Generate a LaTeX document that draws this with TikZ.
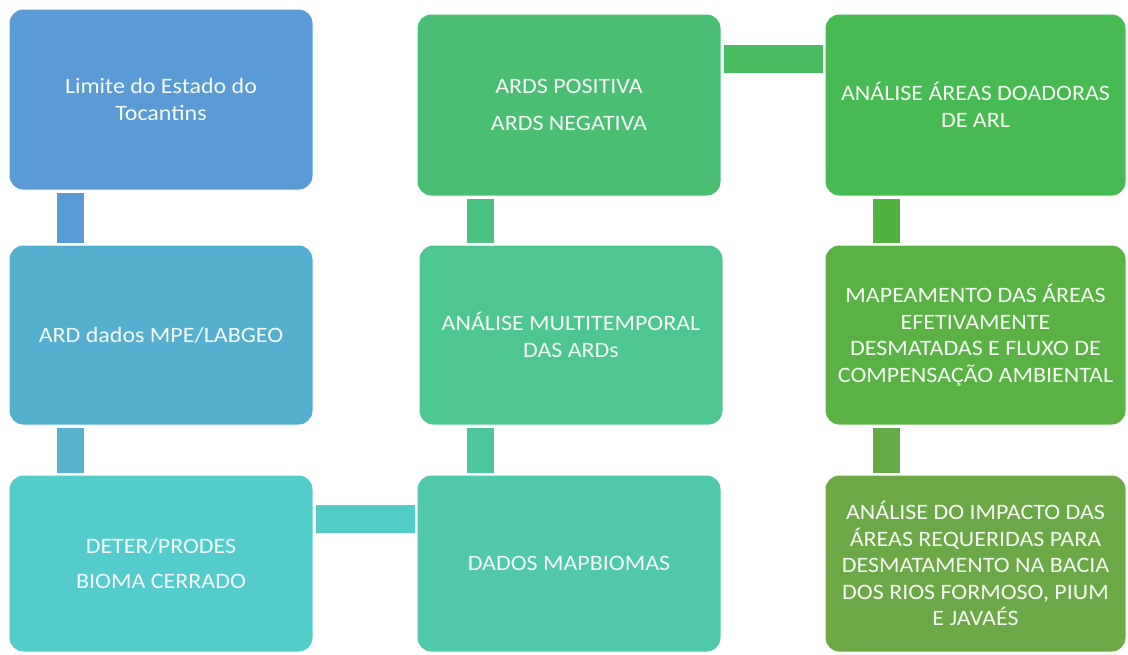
\documentclass[tikz,border=0pt]{standalone}
\usepackage{fontspec}
\setmainfont{Carlito}[FakeStretch=1.09]
\usetikzlibrary{calc}
\definecolor{cA1}{RGB}{91,155,213}
\definecolor{cA2}{RGB}{84,176,206}
\definecolor{cA3}{RGB}{84,204,204}
\definecolor{cB3}{RGB}{80,200,170}
\definecolor{cB2}{RGB}{78,198,143}
\definecolor{cB1}{RGB}{74,190,115}
\definecolor{cC1}{RGB}{72,186,82}
\definecolor{cC2}{RGB}{90,178,68}
\definecolor{cC3}{RGB}{108,168,70}
\definecolor{kA12}{RGB}{91,155,213}
\definecolor{kA23}{RGB}{86,178,205}
\definecolor{kAB}{RGB}{82,205,200}
\definecolor{kB32}{RGB}{78,198,156}
\definecolor{kB21}{RGB}{76,194,128}
\definecolor{kBC}{RGB}{73,188,98}
\definecolor{kC12}{RGB}{82,178,64}
\definecolor{kC23}{RGB}{100,170,70}
\definecolor{txt}{RGB}{246,250,246}
\tikzset{
  box/.style={rectangle, rounded corners=14pt, draw=white, line width=1pt,
    text=txt, align=center, inner sep=0pt,
    font=\fontsize{22}{26.5}\selectfont},
  vconn/.style={line width=27pt, shorten <=2pt, shorten >=2pt},
  hconn/.style={line width=28pt, shorten <=2pt, shorten >=2pt}
}
\begin{document}
\begin{tikzpicture}[x=1pt,y=-1pt]
\useasboundingbox (0,0) rectangle (1128,654);
% column 1
\node[box, fill=cA1, minimum width=304pt, minimum height=181pt] (a1) at (161,99.5) {Limite do Estado do\\Tocantins};
\node[box, fill=cA2, minimum width=304pt, minimum height=180pt] (a2) at (161,335) {ARD dados MPE/LABGEO};
\node[box, fill=cA3, minimum width=304pt, minimum height=177pt] (a3) at (161,563.5) {DETER/PRODES\\[9pt]BIOMA CERRADO};
% column 2
\node[box, fill=cB1, minimum width=304pt, minimum height=182pt] (b1) at (569,105) {ARDS POSITIVA\\[10pt]ARDS NEGATIVA};
\node[box, fill=cB2, minimum width=304pt, minimum height=180pt] (b2) at (571,335) {ANÁLISE MULTITEMPORAL\\DAS ARDs};
\node[box, fill=cB3, minimum width=304pt, minimum height=177pt] (b3) at (569,563.5) {DADOS MAPBIOMAS};
% column 3
\node[box, fill=cC1, minimum width=301pt, minimum height=182pt] (c1) at (975.5,105) {ANÁLISE ÁREAS DOADORAS\\DE ARL};
\node[box, fill=cC2, minimum width=301pt, minimum height=180pt] (c2) at (975.5,335) {MAPEAMENTO DAS ÁREAS\\EFETIVAMENTE\\DESMATADAS E FLUXO DE\\COMPENSAÇÃO AMBIENTAL};
\node[box, fill=cC3, minimum width=301pt, minimum height=177pt] (c3) at (975.5,563.5) {ANÁLISE DO IMPACTO DAS\\ÁREAS REQUERIDAS PARA\\DESMATAMENTO NA BACIA\\DOS RIOS FORMOSO, PIUM\\E JAVAÉS};
% connector guide coordinates
\coordinate (kA) at (70.5,0);
\coordinate (kB) at (480,0);
\coordinate (kC) at (886.5,0);
\coordinate (hBot) at (0,519);
\coordinate (hTop) at (0,58.5);
% connectors
\draw[vconn, kA12] (a1.south -| kA) -- (a2.north -| kA);
\draw[vconn, kA23] (a2.south -| kA) -- (a3.north -| kA);
\draw[hconn, kAB] (a3.east |- hBot) -- (b3.west |- hBot);
\draw[vconn, kB32] (b3.north -| kB) -- (b2.south -| kB);
\draw[vconn, kB21] (b2.north -| kB) -- (b1.south -| kB);
\draw[hconn, kBC] (b1.east |- hTop) -- (c1.west |- hTop);
\draw[vconn, kC12] (c1.south -| kC) -- (c2.north -| kC);
\draw[vconn, kC23] (c2.south -| kC) -- (c3.north -| kC);
\end{tikzpicture}
\end{document}
